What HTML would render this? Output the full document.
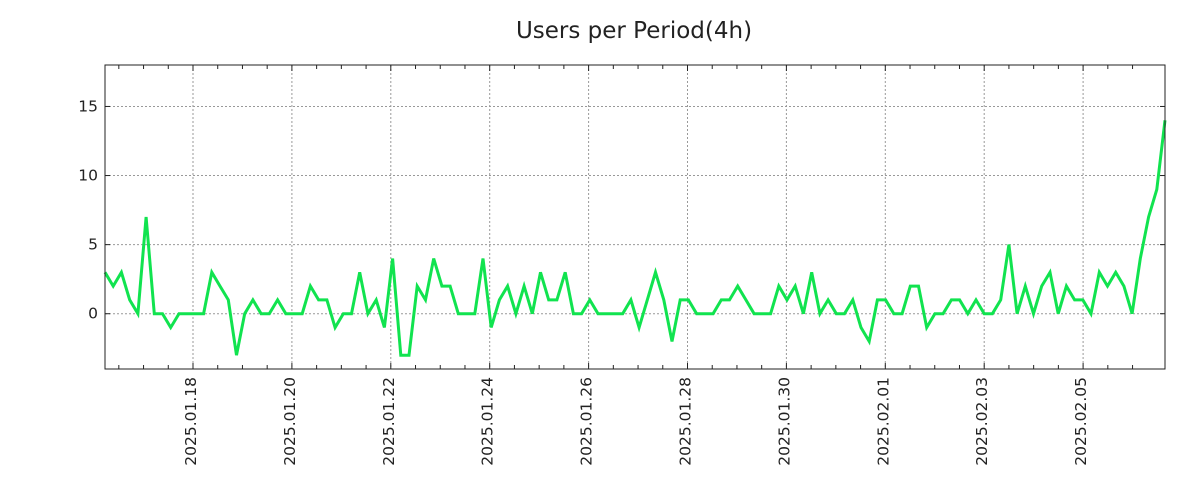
<!DOCTYPE html>
<html><head><meta charset="utf-8"><style>
body{margin:0;background:#fff;}
svg{display:block;font-family:"DejaVu Sans","Liberation Sans",sans-serif;}
</style></head><body>
<svg id="chart" width="1200" height="500">
<text x="634" y="38" text-anchor="middle" font-size="23" fill="#222">Users per Period(4h)</text>
<g id="grid"></g><g id="axes"></g>
<polyline id="line" fill="none" stroke="#11e34f" stroke-width="3" stroke-linejoin="miter"/>
<rect x="105" y="65" width="1060" height="304" fill="none" stroke="#222" stroke-width="1"/>
</svg>
<script>
const values=[3,2,3,1,0,7,0,0,-1,0,0,0,0,3,2,1,-3,0,1,0,0,1,0,0,0,2,1,1,-1,0,0,3,0,1,-1,4,-3,-3,2,1,4,2,2,0,0,0,4,-1,1,2,0,2,0,3,1,1,3,0,0,1,0,0,0,0,1,-1,1,3,1,-2,1,1,0,0,0,1,1,2,1,0,0,0,2,1,2,0,3,0,1,0,0,1,-1,-2,1,1,0,0,2,2,-1,0,0,1,1,0,1,0,0,1,5,0,2,0,2,3,0,2,1,1,0,3,2,3,2,0,4,7,9,14];
const yTicks=[0,5,10,15];
const xLabels=["2025.01.18","2025.01.20","2025.01.22","2025.01.24","2025.01.26","2025.01.28","2025.01.30","2025.02.01","2025.02.03","2025.02.05"];
const L=105,R=1165,T=65,B=369,yMin=-4,yMax=18;
const ns="http://www.w3.org/2000/svg";
const y=v=>B-(v-yMin)/(yMax-yMin)*(B-T);
const x=i=>L+i*(R-L)/(values.length-1);
const dayPx=49.45, x0=193;
const xd=d=>x0+d*dayPx;
const grid=document.getElementById('grid'),axes=document.getElementById('axes');
function mk(tag,attrs,parent){const e=document.createElementNS(ns,tag);for(const k in attrs)e.setAttribute(k,attrs[k]);parent.appendChild(e);return e;}
yTicks.forEach(v=>{
 const g=mk('line',{x1:L,x2:R,y1:y(v),y2:y(v),stroke:'#999','stroke-dasharray':'2,2'},grid);
 
 
 mk('line',{x1:L,x2:L+5,y1:y(v),y2:y(v),stroke:'#222'},axes);
 mk('line',{x1:R,x2:R-5,y1:y(v),y2:y(v),stroke:'#222'},axes);
 const t=mk('text',{x:L-7,y:y(v)+5,'text-anchor':'end','font-size':15.5,fill:'#222'},axes);
 t.textContent=v;
 
 
});
for(let d=-1.5;d<=19;d+=0.5){const xx=xd(d);if(xx<L||xx>R)continue;
 const major=Number.isInteger(d/2);
 mk('line',{x1:xx,x2:xx,y1:B,y2:B-(major?6:4),stroke:'#222'},axes);
 mk('line',{x1:xx,x2:xx,y1:T,y2:T+(major?6:4),stroke:'#222'},axes);}
xLabels.forEach((s,i)=>{const xx=xd(i*2);
 const g=mk('line',{x1:xx,x2:xx,y1:T,y2:B,stroke:'#999','stroke-dasharray':'2,2'},grid);
 
 
 const t=mk('text',{x:0,y:0,'text-anchor':'end','font-size':15.5,fill:'#222',transform:`translate(${xx+3},377) rotate(-90)`},axes);
 t.textContent=s;
 
 
});
document.getElementById('line').setAttribute('points',values.map((v,i)=>x(i).toFixed(1)+','+y(v).toFixed(1)).join(' '));
</script>
</body></html>
